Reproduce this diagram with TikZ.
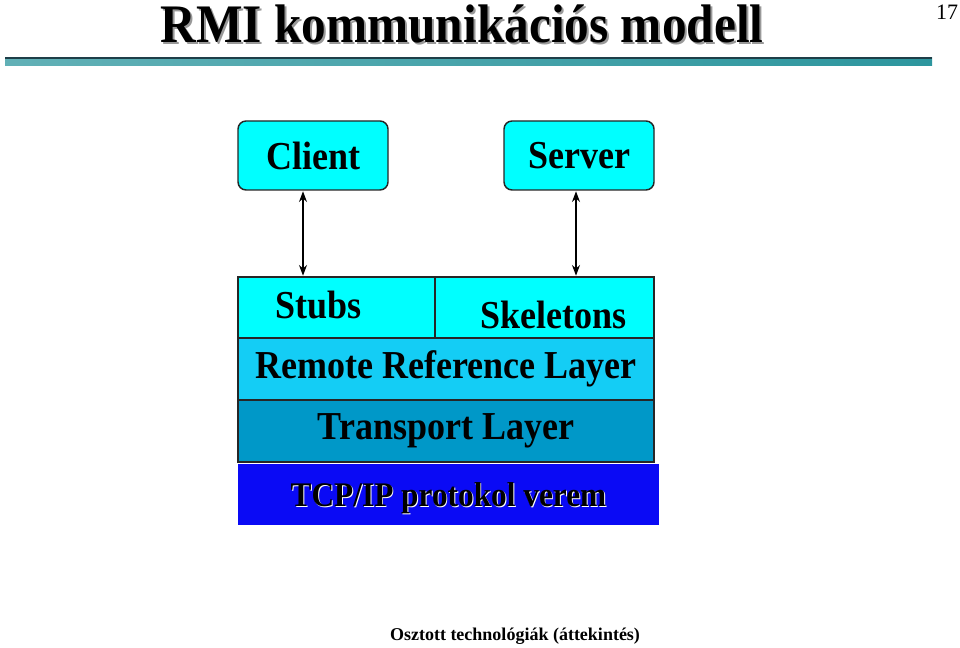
\documentclass[tikz,border=0pt]{standalone}
\usepackage{fontspec}
\usepackage{graphicx}
\setmainfont{Liberation Serif}
\usetikzlibrary{arrows.meta, positioning, calc}
\definecolor{boxcyan}{RGB}{0,255,255}
\definecolor{refblue}{RGB}{20,205,245}
\definecolor{transblue}{RGB}{0,152,200}
\definecolor{tcpblue}{RGB}{10,10,245}
\definecolor{barteal}{RGB}{45,150,158}
\definecolor{bardark}{RGB}{30,62,72}
\newcommand{\tallt}[1]{\scalebox{1}[1.1]{#1}}

\begin{document}
\begin{tikzpicture}[x=0.75pt, y=-0.75pt, font=\bfseries\fontsize{27}{30}\selectfont,
  b/.style={draw=black!85, line width=1.1pt, inner sep=0pt, outer sep=0pt, fill=boxcyan},
  app/.style={b, rounded corners=6pt, minimum width=112.5pt, minimum height=51.75pt},
  lay/.style={b, minimum width=312pt, minimum height=46.5pt},
  ttl/.style={anchor=base, font=\bfseries\fontsize{37}{40}\selectfont},
  tcpfont/.style={font=\bfseries\fontsize{23.5}{26}\selectfont},
  a/.style={{Stealth[length=8pt,width=6pt]}-{Stealth[length=8pt,width=6pt]}, line width=0.8pt,
            shorten <=1pt, shorten >=1pt}]
\useasboundingbox (0,0) rectangle (960,648);
% header
\node[ttl, text=black!40] (titleshadow) at (464,45) {\tallt{RMI kommunikációs modell}};
\node[ttl] (title) at (462,43) {\tallt{RMI kommunikációs modell}};
\node[anchor=base, font=\fontsize{16.5}{18}\selectfont] (pagenum) at (947,20) {17};
\shade[left color=barteal!75, right color=barteal] (5,58) rectangle (932,66);
\fill[bardark] (5,57) rectangle (932,59);
% client / server
\node[app] (client) at (313,155.5) {\tallt{Client}};
\node[app, right=87pt of client] (server) {\tallt{Server}};
% layers
\node[b, minimum width=147.75pt, minimum height=45.75pt,
      below=65.25pt of client.south west, anchor=north west,
      label={[xshift=-13.5pt, yshift=1.5pt]center:\tallt{Stubs}}] (stubs) {};
\node[b, minimum width=164.25pt, minimum height=45.75pt, right=0pt of stubs,
      label={[xshift=6.4pt, yshift=-5.6pt]center:\tallt{Skeletons}}] (skel) {};
\node[lay, fill=refblue, below=0pt of stubs.south west, anchor=north west] (remote) {\tallt{Remote Reference Layer}};
\node[lay, fill=transblue, below=0pt of remote] (transport) {\tallt{Transport Layer}};
\node[minimum width=315.75pt, minimum height=45.75pt, inner sep=0pt, outer sep=0pt, fill=tcpblue,
      below=1.5pt of transport.south west, anchor=north west,
      label={[tcpfont, text=white, xshift=0.7pt, yshift=-3.2pt]center:\tallt{TCP/IP protokol verem}},
      label={[tcpfont, yshift=-2.5pt]center:\tallt{TCP/IP protokol verem}}] (tcp) {};
% connectors
\draw[a] ([xshift=-7.5pt]client.south) -- ([xshift=-7.5pt]client.south |- stubs.north);
\draw[a] ([xshift=-2.25pt]server.south) -- ([xshift=-2.25pt]server.south |- skel.north);
% footer
\node[anchor=base, font=\bfseries\fontsize{13.5}{15}\selectfont] (footer) at (515,640) {Osztott technológiák (áttekintés)};
\end{tikzpicture}
\end{document}
